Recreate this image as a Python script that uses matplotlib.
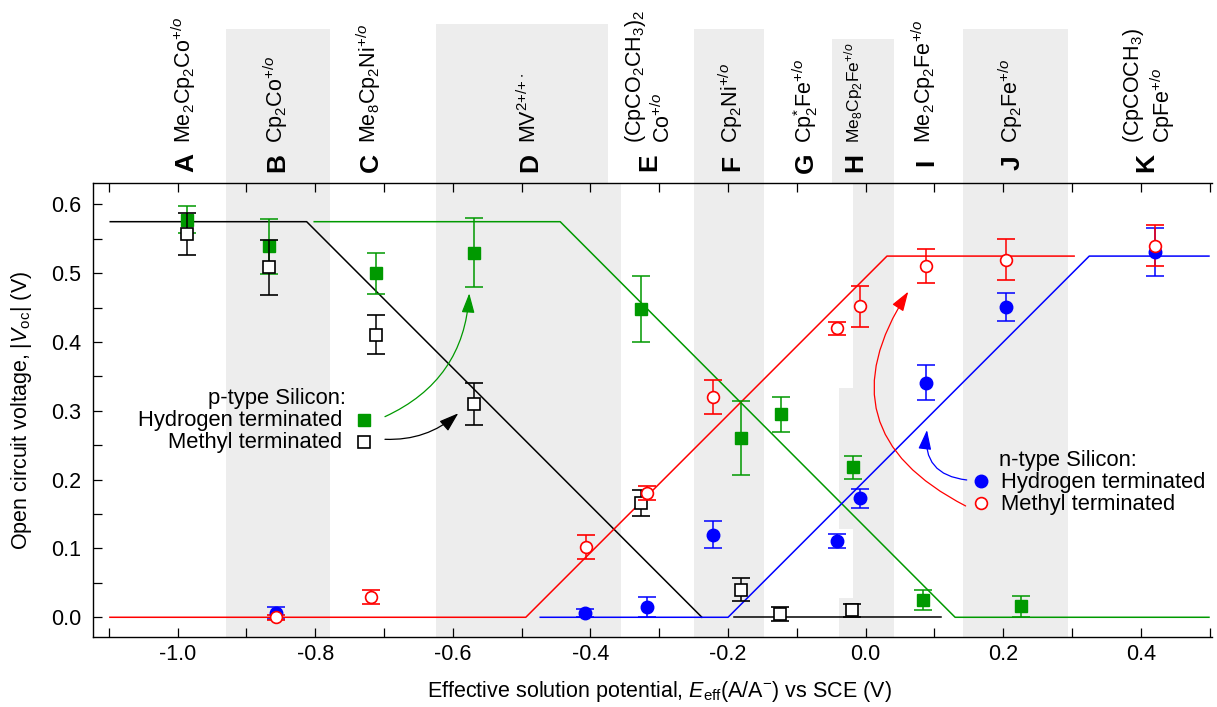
import matplotlib
matplotlib.use("Agg")
import matplotlib.pyplot as plt
from matplotlib.patches import Rectangle
from matplotlib.ticker import MultipleLocator

plt.rcParams['font.family'] = 'Liberation Sans'
plt.rcParams['mathtext.fontset'] = 'custom'
plt.rcParams['mathtext.rm'] = 'Liberation Sans'
plt.rcParams['mathtext.it'] = 'Liberation Sans:italic'
plt.rcParams['mathtext.bf'] = 'Liberation Sans:bold'
plt.rcParams['axes.unicode_minus'] = False

# model lines (piecewise, slope 1)
black_x = [-1.098, -0.8125, -0.238]
black_y = [0.575, 0.575, 0.0]
black_tail_x = [-0.191, 0.109]
black_tail_y = [0.0, 0.0]
green_x = [-0.8015, -0.444, 0.130, 0.499]
green_y = [0.575, 0.575, 0.0, 0.0]
red_x = [-1.0985, -0.494, 0.031, 0.303]
red_y = [0.0, 0.0, 0.525, 0.525]
blue_x = [-0.473, -0.200, 0.325, 0.499]
blue_y = [0.0, 0.0, 0.525, 0.525]

# p-type, hydrogen terminated
pH_x = [-0.986, -0.867, -0.712, -0.569, -0.327, -0.181, -0.123, -0.019, 0.084, 0.226]
pH_y = [0.578, 0.539, 0.500, 0.530, 0.448, 0.261, 0.295, 0.218, 0.025, 0.016]
pH_err = [0.020, 0.040, 0.030, 0.050, 0.048, 0.054, 0.025, 0.017, 0.015, 0.015]

# p-type, methyl terminated
pM_x = [-0.986, -0.867, -0.712, -0.569, -0.327, -0.181, -0.124, -0.020]
pM_y = [0.557, 0.509, 0.411, 0.310, 0.166, 0.040, 0.005, 0.010]
pM_err = [0.030, 0.040, 0.028, 0.031, 0.019, 0.017, 0.010, 0.010]

# n-type, hydrogen terminated
nH_x = [-0.857, -0.408, -0.318, -0.222, -0.041, -0.008, 0.088, 0.204, 0.421]
nH_y = [0.006, 0.006, 0.015, 0.120, 0.111, 0.173, 0.341, 0.451, 0.531]
nH_err = [0.009, 0.006, 0.014, 0.020, 0.010, 0.014, 0.025, 0.020, 0.035]

# n-type, methyl terminated
nM_x = [-0.857, -0.7195, -0.407, -0.318, -0.222, -0.042, -0.008, 0.088, 0.204, 0.421]
nM_y = [0.000, 0.030, 0.102, 0.181, 0.320, 0.420, 0.452, 0.511, 0.520, 0.540]
nM_err = [0.004, 0.010, 0.017, 0.010, 0.025, 0.009, 0.030, 0.025, 0.030, 0.030]

# redox couples along the top
letters = ['A', 'B', 'C', 'D', 'E', 'F', 'G', 'H', 'I', 'J', 'K']
letter_x = [-0.9915, -0.8586, -0.7225, -0.4908, -0.3179, -0.1972, -0.0897, -0.0185, 0.0839, 0.2097, 0.4045]
formulas = [
    ['Me$_2$Cp$_2$Co$^{+/o}$'],
    ['Cp$_2$Co$^{+/o}$'],
    ['Me$_8$Cp$_2$Ni$^{+/o}$'],
    ['MV$^{2{+}/{+}\\bullet}$'],
    ['(CpCO$_2$CH$_3$)$_2$', 'Co$^{+/o}$'],
    ['Cp$_2$Ni$^{+/o}$'],
    ['Cp$^{*}_{2}$Fe$^{+/o}$'],
    ['Me$_8$Cp$_2$Fe$^{+/o}$'],
    ['Me$_2$Cp$_2$Fe$^{+/o}$'],
    ['Cp$_2$Fe$^{+/o}$'],
    ['(CpCOCH$_3$)', 'CpFe$^{+/o}$'],
]
line_shift = {4: [-0.0201, 0.0218], 10: [-0.0189, 0.0262]}

GREEN = '#009900'
BAND = '#ededed'
PX = 1 / 688.0  # one pixel in data units

fig = plt.figure(figsize=(12.17, 7.07), dpi=100)
ax = fig.add_axes([92.7 / 1217, 1 - 637.3 / 707, (1212 - 92.7) / 1217, (637.3 - 183.3) / 707])
ax.set_facecolor('none')
ax.set_xlim(-1.1235, 0.5034)
ax.set_ylim(-0.0291, 0.6308)
y0, y1 = ax.get_ylim()

# shaded bands (in axes and up through the label area)
def band(xa, xb, ya, yb):
    ax.add_patch(Rectangle((xa, ya), xb - xa, yb - ya, facecolor=BAND,
                           edgecolor='none', zorder=0, clip_on=False))

band(-0.9297, -0.7792, y0, 0.8551)
band(-0.6246, -0.3557, y0, y1)
band(-0.6246, -0.3746, y1, 0.8624)
band(-0.2491, -0.1478, y0, 0.8551)
band(-0.0185, 0.0411, y0, y1)
band(-0.0490, 0.0411, y1, 0.8406)
band(-0.0388, -0.0185, y0, 0.0273)
band(-0.0388, -0.0185, 0.1289, 0.3333)
band(0.1414, 0.2940, y0, 0.8551)

# model lines
ax.plot(black_x, black_y, color='black', lw=1.1, zorder=2)
ax.plot(black_tail_x, black_tail_y, color='black', lw=1.1, zorder=2)
ax.plot(green_x, green_y, color=GREEN, lw=1.1, zorder=2)
ax.plot(red_x, red_y, color='red', lw=1.1, zorder=2)
ax.plot(blue_x, blue_y, color='blue', lw=1.1, zorder=2)

eb = dict(capsize=6.8, capthick=1.1, elinewidth=1.1, linestyle='none')
ax.errorbar(pH_x, pH_y, yerr=pH_err, fmt='s', color=GREEN, ms=8, zorder=3, **eb)
ax.errorbar(pM_x, pM_y, yerr=pM_err, fmt='s', color='black', mfc='white', mec='black',
            mew=1.2, ms=8, zorder=3.1, **eb)
ax.errorbar(nH_x, nH_y, yerr=nH_err, fmt='o', color='blue', ms=9, zorder=3.2, **eb)
ax.errorbar(nM_x, nM_y, yerr=nM_err, fmt='o', color='red', mfc='white', mec='red',
            mew=1.2, ms=8.5, zorder=3.3, **eb)

# legends drawn by hand
fs = 15.5
lfs = 15.8
ax.text(-0.7554, 0.3100, 'p-type Silicon:', fontsize=lfs, ha='right', va='baseline')
ax.text(-0.7612, 0.2777, 'Hydrogen terminated', fontsize=lfs, ha='right', va='baseline')
ax.text(-0.7612, 0.2461, 'Methyl terminated', fontsize=lfs, ha='right', va='baseline')
ax.plot([-0.7292], [0.2868], 's', color=GREEN, ms=8, zorder=4)
ax.plot([-0.7292], [0.2552], 's', mfc='white', mec='black', mew=1.2, ms=8, zorder=4)

ax.text(0.1935, 0.2199, 'n-type Silicon:', fontsize=lfs, ha='left', va='baseline')
ax.text(0.1972, 0.1879, 'Hydrogen terminated', fontsize=lfs, ha='left', va='baseline')
ax.text(0.1972, 0.1560, 'Methyl terminated', fontsize=lfs, ha='left', va='baseline')
ax.plot([0.1683], [0.1981], 'o', color='blue', ms=9, zorder=4)
ax.plot([0.1683], [0.1661], 'o', mfc='white', mec='red', mew=1.2, ms=8.5, zorder=4)

def arrow(start, end, rad, color):
    ax.annotate('', xy=end, xytext=start,
                arrowprops=dict(arrowstyle='-|>,head_length=0.6,head_width=0.2',
                                connectionstyle='arc3,rad=%s' % rad, color=color,
                                lw=0.9, shrinkA=0, shrinkB=0, mutation_scale=20))

arrow((-0.6987, 0.2916), (-0.5762, 0.4709), 0.3, GREEN)
arrow((-0.6987, 0.2587), (-0.5921, 0.2965), 0.2, 'black')
arrow((0.1469, 0.1996), (0.0891, 0.2722), -0.5, 'blue')
arrow((0.1453, 0.1618), (0.0619, 0.4733), -0.55, 'red')

# compound labels above the frame
for i, (let, cx) in enumerate(zip(letters, letter_x)):
    ax.text(cx + 9.4 * PX, 0.661, let, fontsize=19, fontweight='bold', rotation=90,
            rotation_mode='anchor', ha='center', va='baseline')
    lines = formulas[i]
    shifts = line_shift.get(i, [0.0] * len(lines))
    size = 12.5 if let == 'H' else fs
    cap = 0.716 * size * 100 / 72
    for txt, dx in zip(lines, shifts):
        ax.text(cx + dx + cap / 2 * PX, 0.6897, txt, fontsize=size, rotation=90,
                rotation_mode='anchor', ha='left', va='baseline')

# ticks and frame
ax.xaxis.set_minor_locator(MultipleLocator(0.1))
ax.yaxis.set_minor_locator(MultipleLocator(0.05))
ax.set_xticks([-1.0, -0.8, -0.6, -0.4, -0.2, 0.0, 0.2, 0.4])
ax.set_xticklabels(['-1.0', '-0.8', '-0.6', '-0.4', '-0.2', '0.0', '0.2', '0.4'])
ax.set_yticks([0.0, 0.1, 0.2, 0.3, 0.4, 0.5, 0.6])
ax.set_yticklabels(['0.0', '0.1', '0.2', '0.3', '0.4', '0.5', '0.6'])
ax.tick_params(which='both', direction='in', length=6.5, width=0.9, top=True,
               right=False, labelsize=fs)
ax.tick_params(axis='x', pad=5)
ax.tick_params(axis='y', pad=8)
for s in ['left', 'bottom', 'top']:
    ax.spines[s].set_linewidth(1.0)
ax.spines['right'].set_visible(False)

fig.text(22 / 1217, 1 - 410 / 707, 'Open circuit voltage, |$V_{\\rm oc}$| (V)', fontsize=fs,
         rotation=90, ha='center', va='center')
fig.text(659 / 1217, 1 - 691 / 707,
         'Effective solution potential, $E_{\\rm eff}$(A/A$^{-}$) vs SCE (V)',
         fontsize=fs, ha='center', va='center')

fig.savefig('out.png', dpi=100)
